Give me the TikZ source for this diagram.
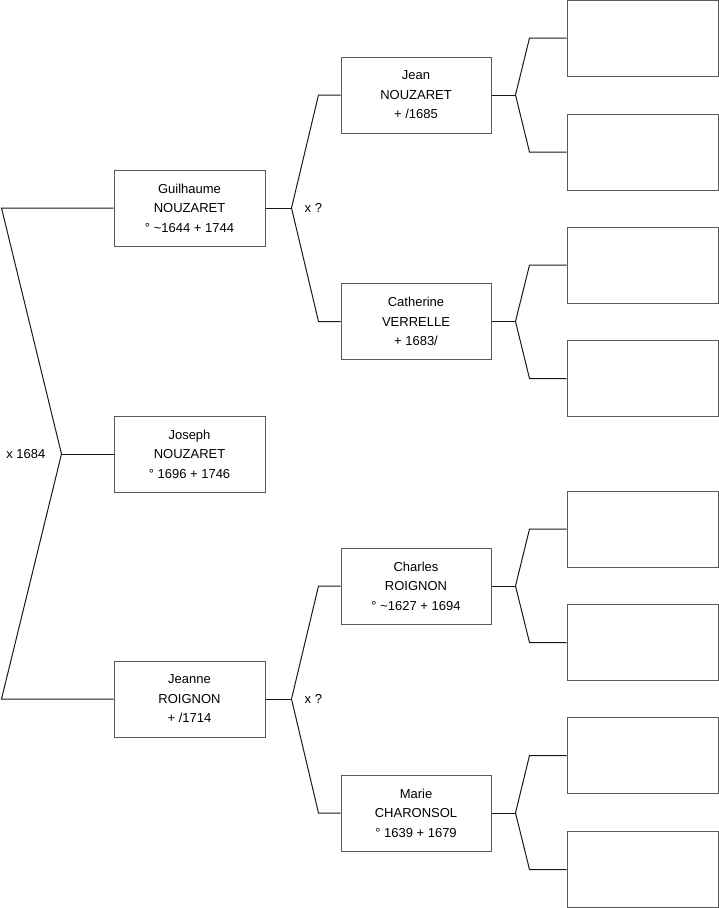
\documentclass[tikz,border=0pt]{standalone}
\usepackage{fontspec}
\setmainfont{Liberation Sans}
\usetikzlibrary{positioning}

\begin{document}
\begin{tikzpicture}[x=1pt,y=-1pt,
  person/.style={rectangle,draw=black!65,line width=1pt,
                 minimum width=151pt,minimum height=76pt,inner sep=0pt,
                 align=center,font=\fontsize{13}{19.5}\selectfont},
  gen2/.style={person,minimum width=150pt},
  link/.style={draw=black!90,line width=1pt},
  union/.style={font=\fontsize{13}{15}\selectfont,inner sep=0pt},
]
\useasboundingbox (0,0) rectangle (719,908);
% Joseph and his parents
\node[person] (joseph) at (189.5,454) {Joseph\\NOUZARET\\° 1696 + 1746};
\node[person] (guilhaume) at (189.5,208) {Guilhaume\\NOUZARET\\° \textasciitilde1644 + 1744};
\node[person] (jeanne) at (189.5,699) {Jeanne\\ROIGNON\\+ /1714};
% grandparents
\node[gen2] (jean) at (416,95) {Jean\\NOUZARET\\+ /1685};
\node[gen2] (catherine) at (416,321.5) {Catherine\\VERRELLE\\+ 1683/};
\node[gen2] (charles) at (416,586) {Charles\\ROIGNON\\° \textasciitilde1627 + 1694};
\node[gen2] (marie) at (416,813) {Marie\\CHARONSOL\\° 1639 + 1679};
% unknown great-grandparents
\foreach \y [count=\i] in {38,152,265,378.5,529,642.5,755.5,869.5}{
  \node[person] (gg\i) at (642.5,\y) {};
}
% marriage of the parents
\coordinate (joseph-m) at ([xshift=-52]joseph.west);
\draw[link] (guilhaume.west) -- ([xshift=-112]guilhaume.west) -- (joseph-m)
  -- ([xshift=-112]jeanne.west) -- (jeanne.west);
\draw[link] (joseph.west) -- (joseph-m);
\node[union,anchor=east] (x1684) at ([xshift=-16]joseph-m) {x 1684};
% marriages of the grandparents
\foreach \p/\a/\b in {guilhaume/jean/catherine,jeanne/charles/marie}{
  \coordinate (\p-m) at ([xshift=26]\p.east);
  \draw[link] (\p.east) -- (\p-m);
  \draw[link] (\a.west) -- ([xshift=-22]\a.west) -- (\p-m)
    -- ([xshift=-22]\b.west) -- (\b.west);
  \node[union,anchor=west] (\p-x) at ([xshift=13]\p-m) {x ?};
}
% last generation
\foreach \p/\a/\b in {jean/gg1/gg2,catherine/gg3/gg4,charles/gg5/gg6,marie/gg7/gg8}{
  \coordinate (\p-m) at ([xshift=24]\p.east);
  \draw[link] (\p.east) -- (\p-m);
  \draw[link] (\a.west) -- ([xshift=-37]\a.west) -- (\p-m)
    -- ([xshift=-37]\b.west) -- (\b.west);
}
\end{tikzpicture}
\end{document}
